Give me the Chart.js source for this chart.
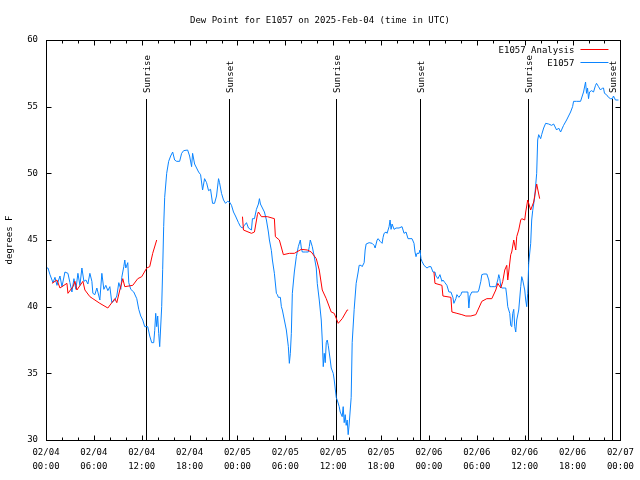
<!DOCTYPE html>
<html>
<head>
<meta charset="utf-8">
<script src="https://cdn.jsdelivr.net/npm/chart.js@4"></script>
<style>
  body { margin: 0; background: #fff; }
</style>
</head>
<body>
<canvas id="dewChart" width="640" height="480"></canvas>
<script>
// hours since 02/04 00:00 UTC
const blueHours = [
    0, 0.25, 0.5, 0.875, 1.125, 1.375, 1.75, 2, 2.375, 2.75,
    3, 3.25, 3.5, 3.75, 4, 4.25, 4.5, 4.75, 5, 5.25,
    5.5, 5.75, 5.875, 6.125, 6.375, 6.75, 7, 7.25, 7.5, 7.75,
    8, 8.25, 8.625, 8.875, 9.125, 9.375, 9.5, 9.75, 9.875, 10,
    10.25, 10.375, 10.625, 11, 11.375, 11.625, 11.875, 12.125, 12.375, 12.75,
    13, 13.25, 13.5, 13.625, 13.75, 13.875, 14, 14.125, 14.25, 14.5,
    14.625, 14.75, 14.875, 15.125, 15.375, 15.625, 15.875, 16.125, 16.375, 16.75,
    17, 17.25, 17.75, 18, 18.25, 18.375, 18.625, 18.875, 19.125, 19.375,
    19.625, 19.875, 20.125, 20.375, 20.625, 20.875, 21.125, 21.375, 21.625, 21.75,
    22, 22.25, 22.5, 22.75, 23, 23.25, 23.5, 23.75, 24.125, 24.375,
    24.625, 24.875, 25.125, 25.375, 25.75, 25.875, 26.125, 26.375, 26.625, 26.75,
    26.875, 27.125, 27.375, 27.625, 27.875, 28, 28.25, 28.375, 28.625, 28.875,
    29, 29.125, 29.375, 29.5, 29.625, 29.875, 30.125, 30.375, 30.5, 30.625,
    30.75, 30.875, 31.125, 31.375, 31.625, 31.875, 32, 32.125, 32.5, 32.875,
    33, 33.125, 33.375, 33.625, 33.875, 34, 34.25, 34.5, 34.625, 34.75,
    34.875, 35, 35.125, 35.25, 35.375, 35.625, 35.75, 36, 36.125, 36.375,
    36.5, 36.75, 36.875, 37.125, 37.25, 37.375, 37.5, 37.625, 37.75, 37.875,
    38, 38.25, 38.375, 38.625, 38.875, 39.125, 39.25, 39.5, 39.625, 39.875,
    40, 40.125, 40.5, 40.875, 41.125, 41.25, 41.5, 41.625, 41.875, 42.125,
    42.25, 42.375, 42.625, 42.75, 43, 43.125, 43.25, 43.375, 43.625, 43.875,
    44.25, 44.625, 44.875, 45.125, 45.375, 45.625, 45.875, 46.125, 46.25, 46.375,
    46.5, 46.75, 46.875, 47, 47.125, 47.375, 47.75, 48, 48.25, 48.5,
    48.75, 48.875, 49.125, 49.375, 49.625, 49.75, 50, 50.25, 50.5, 50.75,
    51, 51.125, 51.375, 51.5, 51.75, 52, 52.125, 52.375, 52.625, 52.875,
    53, 53.125, 53.375, 53.875, 54.125, 54.25, 54.5, 54.625, 54.875, 55.25,
    55.5, 55.625, 55.875, 56.25, 56.375, 56.625, 56.75, 56.875, 57, 57.125,
    57.5, 57.625, 57.75, 57.875, 58, 58.125, 58.25, 58.375, 58.5, 58.625,
    58.75, 58.875, 59, 59.25, 59.5, 59.625, 59.75, 60, 60.125, 60.25,
    60.375, 60.5, 60.75, 60.875, 61, 61.25, 61.5, 61.625, 61.75, 62,
    62.125, 62.375, 62.625, 63, 63.375, 63.625, 64, 64.25, 64.5, 64.875,
    65.25, 65.5, 65.75, 66, 66.125, 66.5, 67, 67.375, 67.625, 67.75,
    67.875, 68, 68.125, 68.375, 68.625, 68.875, 69, 69.25, 69.5, 69.75,
    69.875, 70, 70.25, 70.5, 70.75, 71, 71.125, 71.375, 71.75
];
const blueDewpt = [
    42.9, 42.9, 42.4, 41.8, 42.2, 41.6, 42.3, 41.5, 42.6, 42.5,
    41.8, 41.1, 42.1, 41.3, 42.5, 41.6, 42.9, 41.9, 42.0, 41.7,
    42.5, 41.9, 41.0, 40.9, 41.4, 40.5, 42.5, 41.3, 41.6, 41.2,
    41.5, 40.3, 40.5, 40.8, 41.8, 41.3, 42.2, 43.0, 43.5, 42.9,
    43.3, 41.8, 41.3, 41.1, 40.6, 39.8, 39.3, 39.0, 38.5, 38.5,
    37.8, 37.3, 37.3, 38.2, 39.5, 38.5, 39.3, 38.0, 37.0, 40.0,
    42.8, 46.0, 48.2, 50.0, 50.9, 51.3, 51.6, 51.0, 50.9, 50.9,
    51.5, 51.7, 51.75, 51.3, 50.5, 51.5, 50.7, 50.4, 50.1, 49.9,
    48.75, 49.6, 49.3, 48.7, 48.8, 47.75, 47.75, 48.3, 49.6, 49.3,
    48.5, 48.0, 47.75, 47.9, 47.85, 47.6, 47.1, 46.8, 46.3, 46.0,
    45.9, 46.1, 46.3, 45.9, 45.75, 46.6, 46.6, 47.3, 47.7, 48.1,
    47.7, 47.4, 47.1, 46.5, 45.6, 45.0, 44.2, 43.5, 42.5, 41.0,
    40.9, 40.7, 40.7, 40.0, 39.75, 39.0, 38.25, 37.0, 35.75, 36.5,
    38.0, 41.0, 42.6, 43.75, 44.5, 45.0, 44.4, 44.1, 44.1, 44.1,
    44.5, 45.0, 44.5, 43.75, 42.9, 41.75, 40.5, 39.0, 37.5, 35.5,
    36.5, 35.8, 37.3, 37.5, 37.1, 36.0, 35.4, 35.0, 34.5, 33.2,
    33.0, 32.5, 32.1, 31.75, 32.5, 31.3, 31.9, 31.1, 31.5, 30.4,
    31.2, 33.2, 37.3, 39.8, 41.75, 42.6, 43.1, 43.1, 43.0, 43.3,
    44.25, 44.7, 44.8, 44.75, 44.6, 44.4, 45.0, 45.1, 44.9, 44.75,
    45.2, 45.5, 45.6, 45.5, 46.0, 46.5, 45.8, 46.2, 45.8, 45.9,
    45.9, 46.0, 45.5, 45.6, 45.1, 45.1, 45.1, 44.75, 44.1, 43.75,
    44.0, 44.0, 44.25, 43.6, 43.4, 43.1, 42.9, 43.0, 43.0, 42.6,
    42.6, 42.3, 42.1, 42.4, 41.9, 42.0, 41.8, 41.6, 41.1, 41.1,
    40.7, 40.25, 40.6, 40.9, 40.7, 40.9, 41.1, 41.1, 41.1, 41.1,
    39.9, 40.8, 41.1, 41.1, 41.1, 41.25, 41.9, 42.4, 42.45, 42.45,
    42.0, 41.5, 41.5, 41.5, 41.5, 42.0, 42.4, 42.1, 41.5, 41.4,
    41.4, 41.4, 40.8, 40.0, 39.75, 39.5, 38.6, 38.5, 39.5, 39.8,
    38.5, 38.1, 39.0, 39.75, 41.5, 42.25, 42.0, 41.25, 40.5, 40.0,
    41.0, 43.25, 44.75, 46.5, 47.2, 48.2, 50.0, 52.5, 52.9, 52.6,
    52.9, 53.4, 53.75, 53.7, 53.6, 53.7, 53.25, 53.4, 53.1, 53.6,
    54.0, 54.3, 54.6, 55.0, 55.4, 55.4, 55.4, 56.1, 56.85, 56.0,
    56.4, 55.6, 56.1, 56.2, 56.1, 56.6, 56.75, 56.5, 56.25, 56.4,
    56.4, 56.0, 55.9, 55.7, 55.6, 55.6, 55.8, 55.5, 55.5
];

// analysis series, null marks a gap
const analysisHours = [
    0.75, 1.375, 1.75, 2, 2.625, 2.75, 3.375, 3.625, 3.875, 4.625,
    4.875, 5.5, 5.875, 6.75, 7.75, 8.25, 8.625, 8.875, 9.25, 9.625,
    9.875, 10.875, 11.5, 12, 12.625, 13, 13.375, 13.875, 14,
    24.625, 24.75, 25.75, 26.125, 26.5, 26.625, 27, 27.75, 28.625, 28.75,
    29.25, 29.75, 30.5, 31.125, 32, 32.75, 33.25, 33.875, 34.25, 34.625,
    35.125, 35.75, 36.125, 36.625, 37.125, 37.75, 37.875, 38,
    48.625, 48.75, 49.625, 49.75, 50.75, 50.875, 51.5, 52.125, 52.625, 53.25,
    53.875, 54.625, 55.25, 55.875, 56.375, 56.625, 57, 57.25, 57.5, 57.75,
    57.875, 58.25, 58.375, 58.625, 58.875, 59, 59.25, 59.5, 59.625, 60,
    60.125, 60.375, 60.75, 61.125, 61.5, 61.875
];
const analysisDewpt = [
    41.75, 42.0, 41.4, 41.5, 41.75, 41.0, 41.5, 41.9, 41.25, 41.9,
    41.25, 40.75, 40.6, 40.25, 39.9, 40.3, 40.6, 40.3, 41.25, 42.1,
    41.5, 41.6, 42.1, 42.25, 42.9, 43.0, 44.0, 45.0, null,
    46.75, 45.75, 45.5, 45.6, 46.9, 47.1, 46.75, 46.75, 46.6, 45.25,
    45.0, 43.9, 44.0, 44.0, 44.3, 44.25, 44.1, 43.6, 42.75, 41.25,
    40.6, 39.6, 39.5, 38.75, 39.1, 39.75, 39.75, null,
    42.6, 41.75, 41.6, 40.8, 40.7, 39.6, 39.5, 39.4, 39.3, 39.3,
    39.4, 40.4, 40.6, 40.6, 41.25, 41.75, 41.4, 41.9, 42.75, 43.1,
    42.0, 43.9, 44.1, 45.0, 44.25, 45.25, 45.75, 46.5, 46.6, 46.5,
    47.1, 48.0, 47.25, 47.85, 49.2, 48.1
];

const sunHours = [12.54, 22.88, 36.38, 46.88, 60.38, 70.88];
const sunLabels = ["Sunrise", "Sunset", "Sunrise", "Sunset", "Sunrise", "Sunset"];

const xTickDates = ["02/04", "02/04", "02/04", "02/04", "02/05", "02/05", "02/05", "02/05", "02/06", "02/06", "02/06", "02/06", "02/07"];
const xTickTimes = ["00:00", "06:00", "12:00", "18:00", "00:00", "06:00", "12:00", "18:00", "00:00", "06:00", "12:00", "18:00", "00:00"];

const FONT = "'DejaVu Sans Mono', 'Liberation Mono', monospace";
Chart.defaults.font.family = FONT;
Chart.defaults.font.size = 9;
Chart.defaults.color = "#000";

const toPoints = (xs, ys) => xs.map((x, i) => ({ x: x, y: ys[i] }));

// frame, inward ticks, sunrise/sunset lines and the legend, gnuplot style
const decorations = {
    id: "decorations",
    beforeDatasetsDraw(chart) {
        const { ctx, chartArea: a, scales: { x } } = chart;
        ctx.save();
        ctx.strokeStyle = "#000";
        ctx.lineWidth = 1;
        ctx.fillStyle = "#000";
        ctx.font = "9px " + FONT;
        ctx.textBaseline = "middle";
        ctx.textAlign = "left";
        sunHours.forEach((h, i) => {
            const px = Math.round(x.getPixelForValue(h)) + 0.5;
            ctx.beginPath();
            ctx.moveTo(px, a.top + 59);
            ctx.lineTo(px, a.bottom);
            ctx.stroke();
            ctx.save();
            ctx.translate(px + 1, a.top + 53);
            ctx.rotate(-Math.PI / 2);
            ctx.fillText(sunLabels[i], 0, 0);
            ctx.restore();
        });
        ctx.restore();
    },
    afterDatasetsDraw(chart) {
        const { ctx, chartArea: a, scales: { x, y } } = chart;
        ctx.save();
        ctx.strokeStyle = "#000";
        ctx.lineWidth = 1;
        const l = Math.round(a.left) + 0.5, r = Math.round(a.right) + 0.5;
        const t = Math.round(a.top) + 0.5, b = Math.round(a.bottom) + 0.5;
        ctx.strokeRect(l, t, r - l, b - t);
        ctx.beginPath();
        for (let h = 0; h <= 72; h += 2) {
            const px = Math.round(x.getPixelForValue(h)) + 0.5;
            const len = h % 6 === 0 ? 5 : 3;
            ctx.moveTo(px, b); ctx.lineTo(px, b - len);
            ctx.moveTo(px, t); ctx.lineTo(px, t + len);
        }
        for (let v = 30; v <= 60; v += 5) {
            const py = Math.round(y.getPixelForValue(v)) + 0.5;
            ctx.moveTo(l, py); ctx.lineTo(l + 5, py);
            ctx.moveTo(r, py); ctx.lineTo(r - 5, py);
        }
        ctx.stroke();

        // legend
        ctx.font = "9px " + FONT;
        ctx.textAlign = "right";
        ctx.textBaseline = "middle";
        chart.data.datasets.forEach((ds, i) => {
            const ly = Math.round(a.top + 9 + i * 13) + 0.5;
            ctx.fillStyle = "#000";
            ctx.fillText(ds.label, a.right - 46, ly + 1);
            ctx.strokeStyle = ds.borderColor;
            ctx.beginPath();
            ctx.moveTo(a.right - 40, ly);
            ctx.lineTo(a.right - 12, ly);
            ctx.stroke();
        });
        ctx.restore();
    }
};

new Chart(document.getElementById("dewChart"), {
    type: "line",
    data: {
        datasets: [{
            label: "E1057 Analysis",
            data: toPoints(analysisHours, analysisDewpt),
            borderColor: "#ff0000",
            borderWidth: 1,
            pointRadius: 0,
            spanGaps: false,
            tension: 0
        }, {
            label: "E1057",
            data: toPoints(blueHours, blueDewpt),
            borderColor: "#0a84ff",
            borderWidth: 1,
            pointRadius: 0,
            tension: 0
        }]
    },
    options: {
        responsive: false,
        animation: false,
        layout: { padding: 0 },
        plugins: {
            legend: { display: false },
            tooltip: { enabled: false },
            title: {
                display: true,
                text: "Dew Point for E1057 on 2025-Feb-04 (time in UTC)",
                font: { size: 9, weight: "normal", lineHeight: 1.2 },
                color: "#000",
                padding: { top: 15, bottom: 14.2 }
            }
        },
        scales: {
            x: {
                type: "linear",
                min: 0,
                max: 72,
                grid: { display: false, drawTicks: false },
                border: { display: false },
                afterBuildTicks: (scale) => {
                    scale.ticks = xTickDates.map((d, i) => ({ value: i * 6 }));
                },
                afterFit: (scale) => { scale.height = 40; },
                ticks: {
                    maxRotation: 0,
                    autoSkip: false,
                    padding: 6,
                    font: { size: 9, lineHeight: 1.5 },
                    callback: (value) => {
                        const i = Math.round(value / 6);
                        return [xTickDates[i], xTickTimes[i]];
                    }
                }
            },
            y: {
                min: 30,
                max: 60,
                grid: { display: false, drawTicks: false },
                border: { display: false },
                afterFit: (scale) => { scale.width = 46; },
                ticks: { stepSize: 5, padding: 8 },
                title: {
                    display: true,
                    text: "degrees F",
                    font: { size: 9 },
                    padding: { top: 4, bottom: 0 }
                }
            },
            // empty right margin, keeps the title centred on the page
            yRight: {
                position: "right",
                min: 30,
                max: 60,
                grid: { display: false, drawTicks: false },
                border: { display: false },
                ticks: { display: false },
                afterFit: (scale) => { scale.width = 18; }
            }
        }
    },
    plugins: [decorations]
});
</script>
</body>
</html>
